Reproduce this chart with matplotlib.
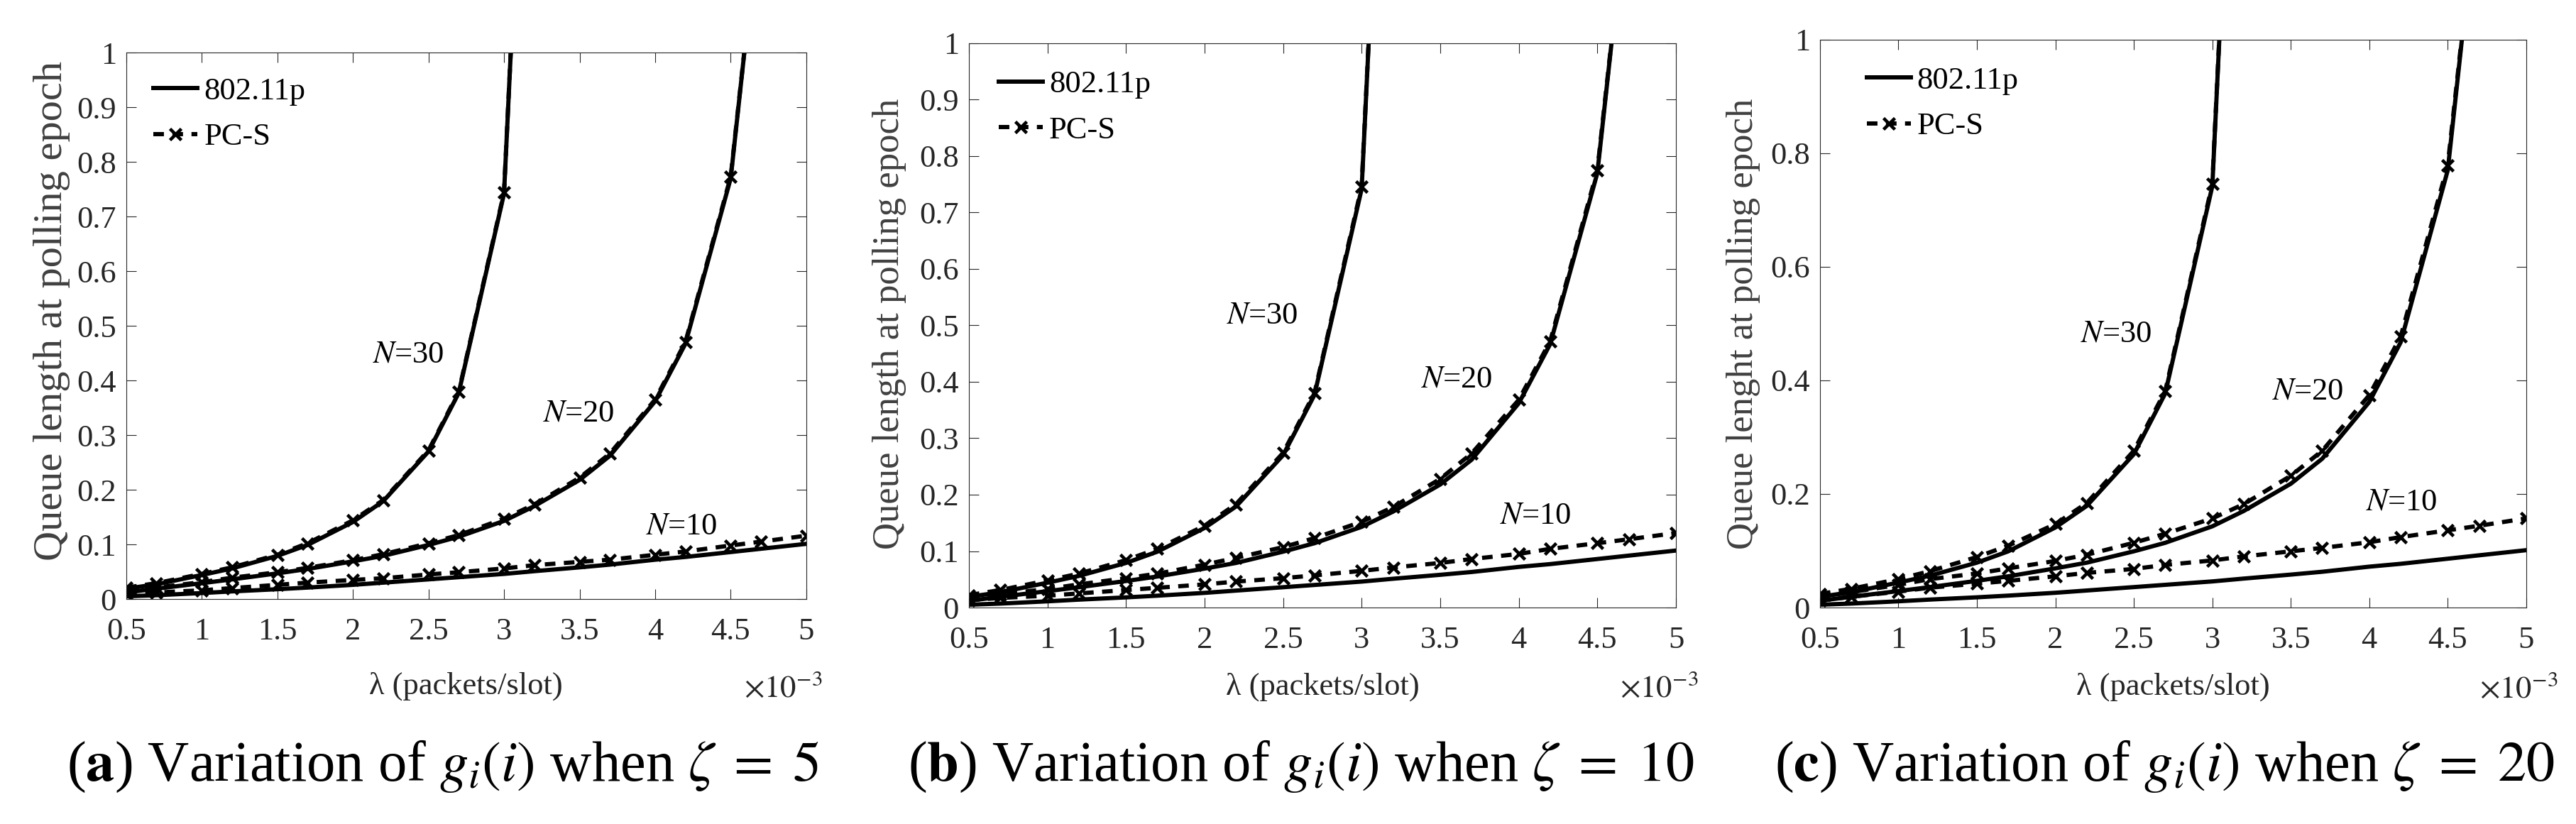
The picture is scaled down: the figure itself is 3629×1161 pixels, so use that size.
import matplotlib
matplotlib.use('Agg')
import matplotlib.pyplot as plt

plt.rcParams['font.family'] = ['Liberation Serif', 'DejaVu Serif']
plt.rcParams['mathtext.fontset'] = 'stix'

# arrival rate lambda (x 1e-3 packets/slot)
lam = [0.5, 0.7, 1.0, 1.2, 1.5, 1.7, 2.0, 2.2, 2.5, 2.7, 3.0, 3.2,
       3.5, 3.7, 4.0, 4.2, 4.5, 4.7, 5.0]

# 802.11p (same in all three panels); N=30 / N=20 blow up past the top
std_n10 = [0.005, 0.007, 0.011, 0.014, 0.018, 0.021, 0.026, 0.030, 0.036, 0.040,
           0.046, 0.051, 0.058, 0.063, 0.072, 0.077, 0.086, 0.092, 0.101]
std_n20 = [0.012, 0.019, 0.029, 0.036, 0.047, 0.055, 0.069, 0.079, 0.099, 0.114,
           0.143, 0.170, 0.218, 0.262, 0.362, 0.467, 0.770, 1.28]
std_n30 = [0.019, 0.027, 0.044, 0.056, 0.079, 0.099, 0.141, 0.179, 0.270, 0.377,
           0.742, 1.9]

# PC-S, zeta = 5
a_n10 = [0.009, 0.012, 0.016, 0.020, 0.026, 0.030, 0.035, 0.038, 0.045, 0.049,
         0.056, 0.062, 0.068, 0.072, 0.081, 0.087, 0.098, 0.105, 0.116]
a_n20 = [0.013, 0.021, 0.031, 0.039, 0.049, 0.057, 0.071, 0.082, 0.102, 0.117,
         0.147, 0.173, 0.222, 0.266, 0.365, 0.470, 0.773, 1.28]
a_n30 = [0.021, 0.029, 0.046, 0.058, 0.081, 0.102, 0.144, 0.181, 0.272, 0.379,
         0.744, 1.9]

# PC-S, zeta = 10
b_n10 = [0.013, 0.017, 0.021, 0.025, 0.031, 0.035, 0.041, 0.046, 0.052, 0.057,
         0.065, 0.071, 0.079, 0.086, 0.095, 0.104, 0.114, 0.121, 0.132]
b_n20 = [0.016, 0.023, 0.033, 0.041, 0.052, 0.060, 0.076, 0.088, 0.107, 0.123,
         0.152, 0.178, 0.228, 0.273, 0.368, 0.472, 0.775, 1.28]
b_n30 = [0.022, 0.031, 0.048, 0.060, 0.084, 0.104, 0.145, 0.183, 0.274, 0.380,
         0.746, 1.9]

# PC-S, zeta = 20
c_n10 = [0.012, 0.019, 0.028, 0.035, 0.042, 0.047, 0.055, 0.061, 0.068, 0.075,
         0.083, 0.090, 0.099, 0.105, 0.115, 0.124, 0.136, 0.144, 0.157]
c_n20 = [0.020, 0.027, 0.040, 0.050, 0.060, 0.069, 0.082, 0.093, 0.114, 0.130,
         0.157, 0.182, 0.232, 0.276, 0.374, 0.477, 0.779, 1.28]
c_n30 = [0.024, 0.033, 0.050, 0.064, 0.089, 0.109, 0.147, 0.184, 0.276, 0.381,
         0.746, 1.9]

xticks = [0.5, 1, 1.5, 2, 2.5, 3, 3.5, 4, 4.5, 5]
yticks_fine = [0, 0.1, 0.2, 0.3, 0.4, 0.5, 0.6, 0.7, 0.8, 0.9, 1]
yticks_coarse = [0, 0.2, 0.4, 0.6, 0.8, 1]

ylabels = ['Queue length at polling epoch', 'Queue length at polling epoch',
           'Queue lenght at polling epoch']
captions = [r'($\mathbf{a}$) Variation of $g_i(i)$ when $\zeta\;=\;5$',
            r'($\mathbf{b}$) Variation of $g_i(i)$ when $\zeta\;=\;10$',
            r'($\mathbf{c}$) Variation of $g_i(i)$ when $\zeta\;=\;20$']

fig = plt.figure(figsize=(36.3, 11.61), dpi=100)

# layout, in figure fractions
rects = [(0.0490, 0.2730, 0.2639, 0.6632),
         (0.3760, 0.2627, 0.2744, 0.6848),
         (0.7063, 0.2627, 0.2741, 0.6891)]
cap_x = [0.172, 0.505, 0.840]
ylab_size = [42, 38, 38]
ylab_pos = [(-0.109, 0.527), (-0.112, 0.503), (-0.108, 0.5)]
xlab_y = [-0.16, -0.14, -0.14]
sci_pos = [(1.024, -0.179), (1.032, -0.158), (1.045, -0.158)]
leg_anchor = [(0.040, 0.955), (0.042, 0.952), (0.066, 0.953)]
n_pos = [[(2.13, 0.447), (3.26, 0.34), (3.94, 0.133)],
         [(2.14, 0.517), (3.38, 0.405), (3.88, 0.163)],
         [(2.16, 0.482), (3.38, 0.380), (3.98, 0.186)]]

pcs = [(a_n10, a_n20, a_n30), (b_n10, b_n20, b_n30), (c_n10, c_n20, c_n30)]
yticks_all = [yticks_fine, yticks_fine, yticks_coarse]

lw = 4.3
dash = (0, (2.5, 2.0))
tc = '#262626'

for i in range(3):
    ax = fig.add_axes(rects[i])
    p10, p20, p30 = pcs[i]

    h1, = ax.plot(lam[:len(std_n30)], std_n30, color='black', lw=lw)
    ax.plot(lam[:len(std_n20)], std_n20, color='black', lw=lw)
    ax.plot(lam, std_n10, color='black', lw=lw)

    mk = dict(color='black', lw=lw, ls=dash, marker='x', ms=11, mew=3.3)
    h2, = ax.plot(lam[:len(p30)], p30, **mk)
    ax.plot(lam[:len(p20)], p20, **mk)
    ax.plot(lam, p10, **mk)

    ax.set_xlim(0.5, 5)
    ax.set_ylim(0, 1)
    ax.set_xticks(xticks)
    ax.set_xticklabels(['%g' % t for t in xticks])
    ax.set_yticks(yticks_all[i])
    ax.set_yticklabels(['%g' % t for t in yticks_all[i]])
    ax.tick_params(direction='in', length=10, width=0.8, top=True, right=True,
                   labelsize=32, colors=tc)
    ax.tick_params(axis='x', pad=19)
    ax.tick_params(axis='y', pad=10)
    for s in ax.spines.values():
        s.set_linewidth(0.8)
        s.set_color(tc)

    ax.set_ylabel(ylabels[i], fontsize=ylab_size[i], color='#404040', va='center')
    ax.yaxis.set_label_coords(*ylab_pos[i])
    ax.set_xlabel('λ (packets/slot)', fontsize=32, color=tc, va='center',
                  family=['Liberation Serif', 'DejaVu Serif'])
    ax.xaxis.set_label_coords(0.5, xlab_y[i])
    ax.text(sci_pos[i][0], sci_pos[i][1], r'$\times10^{-3}$', transform=ax.transAxes,
            ha='right', va='baseline', fontsize=32, color=tc)

    for (tx, ty), nn in zip(n_pos[i], ['30', '20', '10']):
        ax.text(tx, ty, '$N$=' + nn, fontsize=32, ha='left', va='center')

    ax.legend([h1, h2], ['802.11p', 'PC-S'], loc='upper left',
              bbox_to_anchor=leg_anchor[i], frameon=False, fontsize=32,
              handlelength=1.4, handletextpad=0.2, labelspacing=0.55,
              borderpad=0, borderaxespad=0, numpoints=1)

    fig.text(cap_x[i], 0.0525, captions[i], ha='center', va='baseline', fontsize=58)

fig.savefig('out.png', dpi=100)
